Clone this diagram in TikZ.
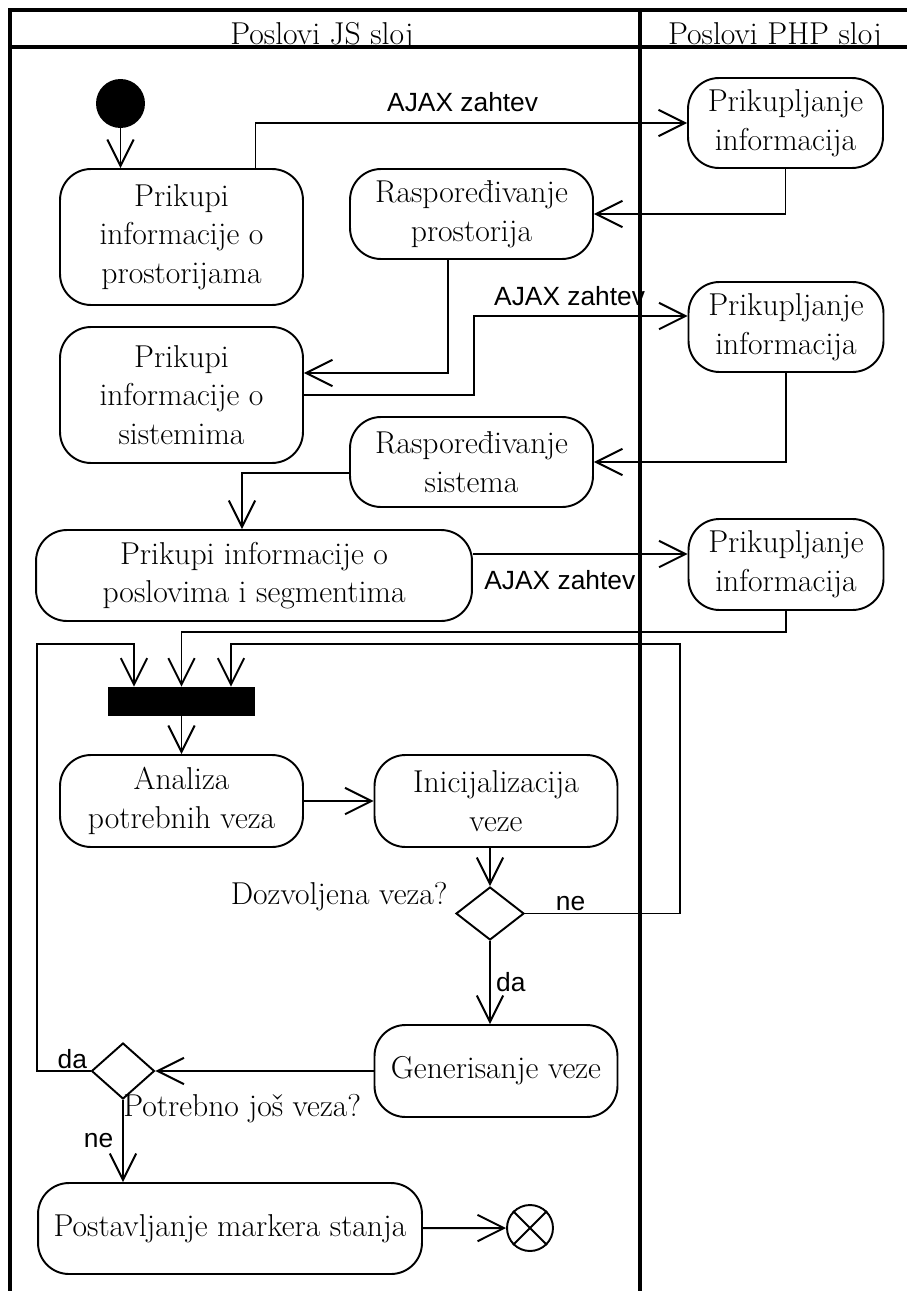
\documentclass[tikz,border=0pt]{standalone}
\usepackage{fontspec}
\usetikzlibrary{arrows.meta}
\usetikzlibrary{shapes.geometric}
\newfontfamily\ajaxfont{Liberation Sans}
\newcommand{\actfont}{\fontsize{18}{22}\selectfont}
\newcommand{\guardfont}{\ajaxfont\fontsize{15}{18}\selectfont}
\tikzset{
	lane/.style={line width=2.3pt},
	activity/.style={draw, line width=1.1pt, rounded corners=0.62cm, align=center, font=\actfont, inner sep=0pt},
	flow/.style={line width=1.1pt, -{Straight Barb[length=15pt,width=15pt]}},
	decision/.style={draw, diamond, line width=1.1pt, inner sep=0pt},
	guard/.style={font=\guardfont, inner sep=1pt},
	question/.style={font=\actfont, inner sep=0pt}
}

\begin{document}
\begin{tikzpicture}[x=0.02cm, y=-0.02cm]
	\useasboundingbox (0,0) rectangle (907,1291);

	% lane headers, descenders cut by the header line
	\begin{scope}
		\clip (10,10) rectangle (907,45);
		\node[font=\actfont, anchor=base] (hdrjs) at (322,45) {Poslovi JS sloj};
		\node[font=\actfont, anchor=base] (hdrphp) at (775,45) {Poslovi PHP sloj};
	\end{scope}

	% start / end
	\node[circle, fill, minimum size=0.98cm, inner sep=0pt] (start) at (120.5,103.5) {};
	\node[circle, draw, line width=1.1pt, minimum size=0.92cm, inner sep=0pt] (stop) at (530,1228) {};
	\draw[line width=1.1pt] (stop.north west) -- (stop.south east) (stop.north east) -- (stop.south west);

	% activities
	\node[activity, minimum width=4.86cm, minimum height=2.72cm] (prost) at (181.5,237) {Prikupi\\informacije o\\prostorijama};
	\node[activity, minimum width=4.86cm, minimum height=1.8cm] (rasp1) at (471.5,214) {Raspoređivanje\\prostorija};
	\node[activity, minimum width=3.9cm, minimum height=1.8cm] (php1) at (785.5,123) {Prikupljanje\\informacija};
	\node[activity, minimum width=4.86cm, minimum height=2.72cm] (sist) at (181.5,395) {Prikupi\\informacije o\\sistemima};
	\node[activity, minimum width=4.86cm, minimum height=1.8cm] (rasp2) at (471.5,462) {Raspoređivanje\\sistema};
	\node[activity, minimum width=3.9cm, minimum height=1.8cm] (php2) at (786,327) {Prikupljanje\\informacija};
	\node[activity, minimum width=8.72cm, minimum height=1.82cm] (posl) at (254,575.5) {Prikupi informacije o\\poslovima i segmentima};
	\node[activity, minimum width=3.9cm, minimum height=1.82cm] (php3) at (786,564.5) {Prikupljanje\\informacija};
	\node[fill, minimum width=2.94cm, minimum height=0.58cm, inner sep=0pt] (bar) at (181.5,701.5) {};
	\node[activity, minimum width=4.86cm, minimum height=1.84cm] (anal) at (181.5,801) {Analiza\\potrebnih veza};
	\node[activity, minimum width=4.86cm, minimum height=1.84cm] (inic) at (496,801) {Inicijalizacija\\veze};
	\node[decision, minimum width=1.36cm, minimum height=1.06cm] (dec1) at (490,913.5) {};
	\node[activity, minimum width=4.86cm, minimum height=1.84cm] (gen) at (496,1071) {Generisanje veze};
	\node[decision, minimum width=1.26cm, minimum height=1.12cm] (dec2) at (123,1071) {};
	\node[activity, minimum width=7.68cm, minimum height=1.82cm] (post) at (230,1228.5) {Postavljanje markera stanja};

	\node[question, anchor=east] (q1) at (448,897) {Dozvoljena veza?};
	\node[question, anchor=west] (q2) at (123,1109) {Potrebno još veza?};

	% transitions
	\draw[flow] (start) -- (start |- prost.north);
	\draw[flow] ([xshift=1.48cm]prost.north) |- node[guard, pos=0.74, above=5pt] (ajax1) {AJAX zahtev} (php1.west);
	\draw[flow] (php1.south) |- (rasp1.east);
	\draw[flow] ([xshift=-0.47cm]rasp1.south) |- ([yshift=0.44cm]sist.east);
	\draw[flow] (sist.east) -- ++(170,0) |- node[guard, pos=0.724, above=4pt] (ajax2) {AJAX zahtev} ([yshift=0.22cm]php2.west);
	\draw[flow] (php2.south) |- (rasp2.east);
	\draw[flow] ([yshift=-0.22cm]rasp2.west) -| ([xshift=-0.24cm]posl.north);
	\draw[flow] ([yshift=0.43cm]posl.east) -- node[guard, pos=0.405, below=8pt] (ajax3) {AJAX zahtev} ([yshift=0.43cm]posl.east -| php3.west);
	\draw[flow] (php3.south) -- ++(0,21) -| (bar.north);
	\draw[flow] (dec2.west) -| node[guard, pos=0.17, above] (da2) {da} (37,644) -| ([xshift=-0.95cm]bar.north);
	\draw[flow] (dec1.east) -| node[guard, pos=0.147, above] (ne1) {ne} (680,644) -| ([xshift=0.99cm]bar.north);
	\draw[flow] (bar) -- (anal);
	\draw[flow] (anal) -- (inic);
	\draw[flow] (dec1.north |- inic.south) -- (dec1.north);
	\draw[flow] (dec1.south) -- node[guard, right=2pt] (da1) {da} (dec1.south |- gen.north);
	\draw[flow] (gen.west) -- (dec2.east);
	\draw[flow] (dec2.south) -- node[guard, left=4pt] (ne2) {ne} (dec2.south |- post.north);
	\draw[flow] (post) -- (stop);

	% swim lanes
	\draw[lane] (10,1291) -- (10,10) -- (907,10);
	\draw[lane] (10,47) -- (907,47);
	\draw[lane] (640,10) -- (640,1291);
\end{tikzpicture}
\end{document}
